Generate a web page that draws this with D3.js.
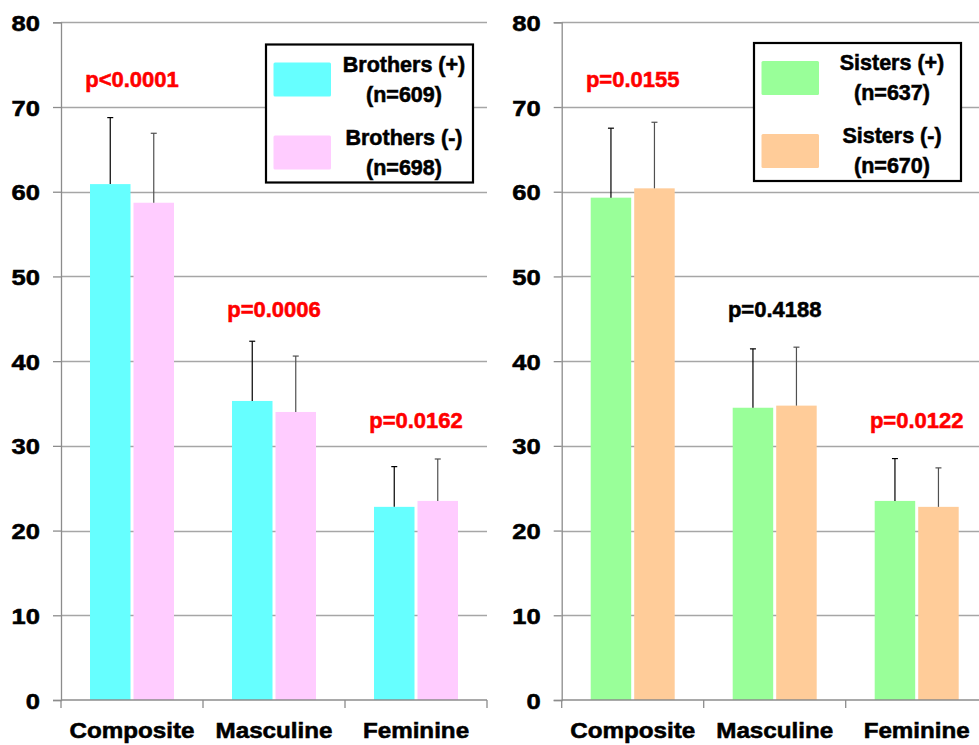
<!DOCTYPE html>
<html>
<head>
<meta charset="utf-8">
<script src="https://cdn.jsdelivr.net/npm/d3@7"></script>
<style>
  html, body { margin: 0; padding: 0; background: #fff; }
  svg { display: block; font-family: "Liberation Sans", Arial, sans-serif; font-weight: bold; }
  text { stroke-width: 0.55px; }
</style>
</head>
<body>
<svg id="chart" width="979" height="745"></svg>
<script>
// Scale scores by group
const categories = ["Composite", "Masculine", "Feminine"];
const yTicks = [0, 10, 20, 30, 40, 50, 60, 70, 80];

const brothersPlus = [60.9, 35.3, 22.8];
const brothersPlusSD = [7.85, 7.05, 4.75];
const brothersMinus = [58.7, 34.0, 23.5];
const brothersMinusSD = [8.2, 6.6, 4.95];

const sistersPlus = [59.3, 34.5, 23.5];
const sistersPlusSD = [8.2, 6.95, 5.0];
const sistersMinus = [60.4, 34.75, 22.8];
const sistersMinusSD = [7.8, 6.9, 4.6];

const brothersP = ["p<0.0001", "p=0.0006", "p=0.0162"];
const sistersP = ["p=0.0155", "p=0.4188", "p=0.0122"];
const brothersSig = [true, true, true];
const sistersSig = [true, false, true];
// height (in score units) at which each p-value label sits
const pLabelLevel = [72.4, 45.2, 32.1];

const brothersLegend = [["Brothers (+)", "(n=609)"], ["Brothers (-)", "(n=698)"]];
const sistersLegend = [["Sisters (+)", "(n=637)"], ["Sisters (-)", "(n=670)"]];

const svg = d3.select("#chart");
const y = d3.scaleLinear().domain([0, 80]).range([700, 22.3]);

function panel(opts) {
  const g = svg.append("g");
  const x0 = d3.scaleBand().domain(categories).range([opts.left, opts.left + 426]).padding(0);
  const x1 = d3.scaleBand().domain([0, 1]).range([29, 113]).paddingInner(0.069).paddingOuter(0);

  // horizontal gridlines
  g.append("g").selectAll("line").data(yTicks.filter(t => t > 0)).join("line")
    .attr("x1", opts.left).attr("x2", opts.gridRight)
    .attr("y1", d => Math.round(y(d)) + 0.5).attr("y2", d => Math.round(y(d)) + 0.5)
    .attr("stroke", "#a6a6a6").attr("stroke-width", 1.3);

  // y axis
  const yAxis = d3.axisLeft(y).tickValues(yTicks).tickSize(8).tickPadding(0).tickFormat(d3.format("d"));
  const ya = g.append("g").attr("transform", `translate(${opts.left},0)`).call(yAxis);
  ya.select(".domain").attr("stroke", "#8c8c8c").attr("stroke-width", 1.3);
  ya.selectAll(".tick line").attr("stroke", "#8c8c8c").attr("stroke-width", 1.3);
  ya.selectAll(".tick text")
    .attr("x", 0).attr("dy", null).attr("y", 0)
    .attr("font-size", 22).attr("fill", "#000").attr("stroke", "#000")
    .attr("text-anchor", "end")
    .attr("transform", "translate(-21,8) scale(1.16,1)");

  // bars
  const series = [
    { vals: opts.a, sd: opts.aSD, color: opts.colors[0], err: "#000" },
    { vals: opts.b, sd: opts.bSD, color: opts.colors[1], err: "#505050" }
  ];
  series.forEach((s, si) => {
    const data = categories.map((c, i) => ({ c, v: s.vals[i], sd: s.sd[i] }));
    const bx = d => x0(d.c) + x1(si);
    g.append("g").selectAll("rect").data(data).join("rect")
      .attr("x", bx).attr("width", x1.bandwidth())
      .attr("y", d => y(d.v)).attr("height", d => y(0) - y(d.v))
      .attr("fill", s.color);
    const eb = g.append("g").selectAll("g").data(data).join("g")
      .attr("stroke", s.err).attr("stroke-width", 1.2);
    eb.append("line")
      .attr("x1", d => bx(d) + x1.bandwidth() / 2).attr("x2", d => bx(d) + x1.bandwidth() / 2)
      .attr("y1", d => y(d.v)).attr("y2", d => y(d.v + d.sd));
    eb.append("line")
      .attr("x1", d => bx(d) + x1.bandwidth() / 2 - 3).attr("x2", d => bx(d) + x1.bandwidth() / 2 + 3)
      .attr("y1", d => y(d.v + d.sd)).attr("y2", d => y(d.v + d.sd));
  });

  // x axis with category boundary ticks
  const xa = g.append("g");
  xa.append("line").attr("x1", opts.left).attr("x2", opts.left + 426)
    .attr("y1", y(0)).attr("y2", y(0)).attr("stroke", "#8c8c8c").attr("stroke-width", 1.3);
  const bounds = categories.map(c => x0(c)).concat([x0.range()[1]]);
  xa.selectAll("line.b").data(bounds).join("line").attr("class", "b")
    .attr("x1", d => d).attr("x2", d => d)
    .attr("y1", y(0)).attr("y2", y(0) + 8)
    .attr("stroke", "#8c8c8c").attr("stroke-width", 1.3);
  xa.selectAll("text").data(categories).join("text")
    .attr("transform", d => `translate(${x0(d) + x0.bandwidth() / 2},738) scale(1.1,1)`)
    .attr("text-anchor", "middle").attr("font-size", 22).attr("fill", "#000").attr("stroke", "#000")
    .text(d => d);

  // p-value labels
  g.append("g").selectAll("text").data(categories).join("text")
    .attr("x", d => x0(d) + x0.bandwidth() / 2)
    .attr("y", (d, i) => y(pLabelLevel[i]))
    .attr("text-anchor", "middle").attr("font-size", 22)
    .attr("fill", (d, i) => opts.sig[i] ? "#ff0000" : "#000")
    .attr("stroke", (d, i) => opts.sig[i] ? "#ff0000" : "#000")
    .text((d, i) => opts.p[i]);

  // legend
  const lg = g.append("g").attr("transform", `translate(${opts.legend.x},${opts.legend.y})`);
  lg.append("rect").attr("x", 0).attr("y", 0).attr("width", opts.legend.w).attr("height", 138)
    .attr("fill", "#fff").attr("stroke", "#000").attr("stroke-width", 2.2);
  opts.legendItems.forEach((item, i) => {
    const row = lg.append("g").attr("transform", `translate(0,${i * 73})`);
    row.append("rect").attr("x", 7.5).attr("y", 18).attr("width", 57.5).attr("height", 34)
      .attr("rx", 1.5).attr("fill", opts.colors[i]);
    row.selectAll("text").data(item).join("text")
      .attr("x", opts.legend.tx).attr("y", (d, j) => 27 + j * 30)
      .attr("text-anchor", "middle").attr("font-size", 21.5).attr("fill", "#000").attr("stroke", "#000")
      .text(d => d);
  });
}

panel({
  left: 61, gridRight: 487,
  a: brothersPlus, aSD: brothersPlusSD, b: brothersMinus, bSD: brothersMinusSD,
  colors: ["#66ffff", "#ffccff"],
  p: brothersP, sig: brothersSig,
  legend: { x: 266, y: 44.5, w: 207, tx: 138 },
  legendItems: brothersLegend
});

panel({
  left: 561.7, gridRight: 979,
  a: sistersPlus, aSD: sistersPlusSD, b: sistersMinus, bSD: sistersMinusSD,
  colors: ["#99ff99", "#ffcc99"],
  p: sistersP, sig: sistersSig,
  legend: { x: 754, y: 43, w: 207, tx: 138 },
  legendItems: sistersLegend
});
</script>
</body>
</html>
